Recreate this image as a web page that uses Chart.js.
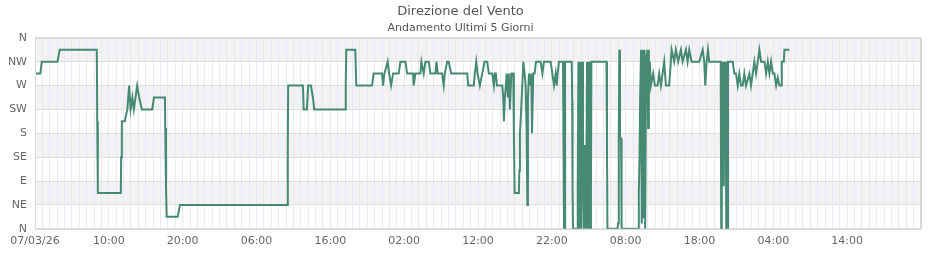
<!DOCTYPE html>
<html>
<head>
<meta charset="utf-8">
<script src="https://cdn.jsdelivr.net/npm/chart.js@4"></script>
<style>
html,body{margin:0;padding:0;background:#fff;}
#wrap{width:940px;height:260px;}
</style>
</head>
<body>
<div id="wrap"><canvas id="c" width="940" height="260"></canvas></div>
<script>
// hours since 07/03/26 00:00
const hours = [
0,0.73,0.91,3.04,3.35,8.37,8.43,8.51,11.63,11.67,11.76,12.17,12.31,12.51,12.75,12.95,13.19,13.39,13.84,14.11,14.48,15.88,16.11,17.6,17.64,17.74,17.83,19.32,19.5,19.64,
34.2,34.24,34.29,36.28,36.39,36.83,37.0,37.37,37.64,37.82,42.02,42.09,42.16,43.38,43.52,45.65,45.86,47.0,47.14,47.32,47.76,47.96,48.23,48.5,49.26,49.49,50.17,50.4,51.21,51.29,51.52,
52.2,52.34,52.65,52.88,53.33,53.56,54.24,54.37,54.55,55.15,55.36,55.5,55.82,56.04,56.37,58.54,58.67,59.43,59.57,59.76,59.94,60.25,60.57,60.89,61.25,61.47,61.93,62.15,62.28,62.42,62.56,
63.29,63.42,63.51,63.64,63.78,63.87,64.05,64.18,64.32,64.51,64.78,64.86,64.96,65.54,65.6,65.68,65.77,66.0,66.14,66.31,66.45,66.59,66.68,66.76,66.9,67.03,67.22,67.31,67.49,67.67,67.85,
68.48,68.72,68.93,69.84,70.07,70.29,70.52,70.66,70.79,70.97,71.51,71.58,71.65,71.78,72.69,72.76,72.8,72.87,73.46,73.51,73.6,73.74,73.87,74.01,74.14,74.22,74.36,74.5,74.63,74.77,74.9,75.04,75.13,75.23,75.3,75.36,
77.4,77.47,77.53,78.89,78.97,79.07,79.14,79.23,79.38,79.45,81.69,81.78,81.88,81.96,82.09,82.19,82.33,82.46,82.56,82.64,82.77,82.96,83.04,83.14,83.18,
83.27,83.41,83.72,83.95,84.32,84.54,84.77,85.0,85.22,85.45,85.89,86.12,86.22,86.57,86.8,87.11,87.48,87.71,88.16,88.39,88.61,88.93,89.96,90.43,90.64,90.78,90.97,91.15,91.32,
92.87,92.94,93.02,93.11,93.21,93.29,93.37,93.46,93.54,93.62,93.7,93.78,93.86,94.5,94.71,94.94,95.18,95.39,95.62,95.85,96.07,96.3,96.75,96.98,97.21,97.43,97.66,97.89,98.11,98.34,
98.79,99.02,99.25,99.47,99.7,99.93,100.15,100.38,100.6,100.83,101.05,101.15,101.42,101.5,102.18
];
// wind direction in degrees
const directions = [
292.5,292.5,315,315,337.5,337.5,202.5,67.5,67.5,135,202.5,202.5,213,225,270,225,247.5,225,270,247.5,225,225,247.5,247.5,190,80,22.5,22.5,35,45,
45,157.5,270,270,225,225,270,270,247.5,225,225,280,337.5,337.5,270,270,292.5,292.5,270,292.5,315,292.5,270,292.5,292.5,315,315,292.5,292.5,270,292.5,
292.5,315,292.5,315,315,292.5,292.5,315,292.5,292.5,270,292.5,315,315,292.5,292.5,270,270,292.5,315,292.5,270,292.5,315,315,292.5,292.5,270,292.5,292.5,270,
270,247.5,202.5,247.5,270,292.5,247.5,292.5,225,292.5,292.5,180,67.5,67.5,110,180,202.5,270,315,292.5,270,180,45,247.5,292.5,270,292.5,180,292.5,292.5,315,
315,292.5,315,315,292.5,270,292.5,270,292.5,315,315,158,0,315,315,240,80,0,0,80,315,0,315,0,315,158,0,158,0,315,0,315,0,0,80,315,
315,158,0,0,10,170,337.5,170,170,0,0,67.5,135,247.5,337.5,10,337.5,20,337.5,0,315,337.5,190,337.5,270,
315,270,292.5,270,270,292.5,270,292.5,315,270,270,315,337.5,315,337.5,315,337.5,315,337.5,315,337.5,315,315,337.5,315,270,315,337.5,315,
315,0,315,158,315,80,315,158,315,0,315,0,315,315,292.5,292.5,270,292.5,270,270,292.5,270,292.5,270,292.5,315,292.5,315,337.5,315,
315,292.5,315,292.5,315,292.5,292.5,270,285,270,270,315,315,337.5,337.5
];
const yTickLabels = ['N','NE','E','SE','S','SW','W','NW','N'];
const xTickLabels = {0:'07/03/26',10:'10:00',20:'20:00',30:'06:00',40:'16:00',50:'02:00',60:'12:00',70:'22:00',80:'08:00',90:'18:00',100:'04:00',110:'14:00'};

const points = hours.map((h,i)=>({x:h,y:directions[i]}));

const bandPlugin = {
  id:'bands',
  beforeDraw(chart){
    const {ctx, chartArea:a, scales:{y}} = chart;
    ctx.save();
    ctx.fillStyle = '#f2f2f3';
    for (let v = 0; v < 360; v += 45) {
      if (((v/45) % 2) === 1) {
        const top = y.getPixelForValue(v+45), bot = y.getPixelForValue(v);
        ctx.fillRect(a.left, top, a.right - a.left, bot - top);
      }
    }
    ctx.restore();
  },
  afterDraw(chart){
    const {ctx, chartArea:a} = chart;
    ctx.save();
    ctx.strokeStyle = '#d8d8d8';
    ctx.lineWidth = 1;
    ctx.strokeRect(Math.round(a.left)+0.5, Math.round(a.top)+0.5, Math.round(a.right-a.left)-1, Math.round(a.bottom-a.top));
    ctx.restore();
  }
};

new Chart(document.getElementById('c'), {
  type:'line',
  data:{datasets:[{data:points, borderColor:'#468a73', borderWidth:2, pointRadius:0, tension:0, fill:false}]},
  options:{
    responsive:false, animation:false, maintainAspectRatio:false,
    layout:{padding:{left:0,right:19,top:0,bottom:6}},
    plugins:{
      legend:{display:false}, tooltip:{enabled:false},
      title:{display:true, text:'Direzione del Vento', color:'#555', font:{family:'DejaVu Sans', size:13, weight:'normal'}, padding:{top:4,bottom:0}},
      subtitle:{display:true, text:'Andamento Ultimi 5 Giorni', color:'#555', font:{family:'DejaVu Sans', size:11, weight:'normal'}, padding:{top:2,bottom:3}}
    },
    scales:{
      x:{type:'linear', min:0, max:120,
        afterBuildTicks(s){ const t=[]; for(let i=0;i<=120;i++) t.push({value:i}); s.ticks=t; },
        ticks:{autoSkip:false, maxRotation:0, padding:6, color:'#666', font:{family:'DejaVu Sans', size:11},
          callback:(v)=> (xTickLabels[v] !== undefined ? xTickLabels[v] : '')},
        grid:{drawTicks:false, color:(c)=> (c.tick && (c.tick.value===0||c.tick.value===120)) ? '#d8d8d8' : '#e9e7f8'},
        border:{display:false}
      },
      y:{min:0, max:360,
        afterFit(s){ s.width = 35; },
        ticks:{stepSize:45, padding:8, color:'#666', font:{family:'DejaVu Sans', size:11},
          callback:(v)=> yTickLabels[Math.round(v/45)]},
        grid:{drawTicks:false, color:'#dedede'},
        border:{display:false}
      }
    }
  },
  plugins:[bandPlugin]
});
</script>
</body>
</html>
